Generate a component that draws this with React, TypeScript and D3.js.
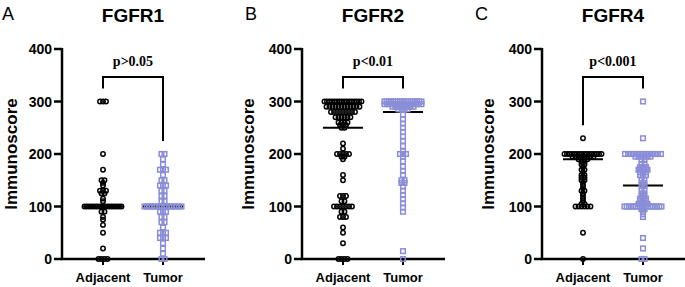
import React from "react";
import * as d3 from "d3";

const categories = ["Adjacent", "Tumor"];
const panelLetters = ["A", "B", "C"];
const panelTitles = ["FGFR1", "FGFR2", "FGFR4"];
const pLabels = ["p>0.05", "p<0.01", "p<0.001"];
const yTicks = [0, 100, 200, 300, 400];

// FGFR1
const fgfr1AdjValues = [300, 200, 170, 150, 145, 140, 130, 125, 115, 110, 100, 90, 80, 75, 65, 50, 20, 0];
const fgfr1AdjCounts = [3, 1, 1, 2, 1, 1, 3, 2, 1, 1, 16, 2, 1, 1, 1, 1, 1, 4];
const fgfr1TumValues = [200, 190, 180, 170, 160, 150, 140, 130, 120, 110, 100, 90, 80, 70, 60, 50, 40, 30, 20, 10, 0];
const fgfr1TumCounts = [2, 1, 1, 3, 1, 2, 3, 2, 2, 2, 16, 3, 2, 2, 1, 3, 3, 1, 1, 1, 2];
const fgfr1Means = [100, 100];

// FGFR2
const fgfr2AdjValues = [300, 290, 280, 270, 260, 255, 250, 220, 210, 200, 195, 190, 160, 150, 120, 110, 100, 90, 80, 60, 50, 30, 0];
const fgfr2AdjCounts = [16, 12, 9, 6, 4, 3, 2, 1, 1, 5, 2, 1, 1, 1, 3, 2, 7, 2, 3, 1, 1, 1, 4];
const fgfr2TumValues = [300, 295, 290, 285, 275, 266, 258, 250, 242, 233, 225, 215, 205, 200, 195, 186, 176, 168, 160, 150, 145, 138, 130, 122, 114, 106, 98, 90, 15, 0];
const fgfr2TumCounts = [18, 15, 8, 4, 1, 1, 1, 1, 1, 1, 1, 1, 1, 3, 1, 1, 1, 1, 1, 2, 2, 1, 1, 1, 1, 1, 1, 1, 1, 1];
const fgfr2Means = [250, 280];

// FGFR4
const fgfr4AdjValues = [230, 200, 195, 190, 185, 180, 175, 170, 165, 160, 155, 150, 145, 140, 135, 130, 125, 120, 115, 110, 105, 100, 50, 0];
const fgfr4AdjCounts = [1, 16, 8, 4, 2, 2, 1, 2, 1, 2, 2, 2, 1, 1, 1, 2, 1, 1, 1, 1, 2, 6, 1, 1];
const fgfr4TumValues = [300, 230, 200, 195, 190, 180, 175, 170, 165, 160, 150, 145, 140, 130, 125, 120, 115, 110, 105, 100, 95, 90, 85, 80, 40, 20, 0];
const fgfr4TumCounts = [1, 1, 13, 6, 2, 2, 3, 4, 3, 3, 2, 1, 2, 2, 1, 2, 3, 3, 4, 18, 2, 1, 1, 1, 1, 1, 2];
const fgfr4Means = [190, 140];

const panels = [
  { groups: [[fgfr1AdjValues, fgfr1AdjCounts], [fgfr1TumValues, fgfr1TumCounts]], means: fgfr1Means },
  { groups: [[fgfr2AdjValues, fgfr2AdjCounts], [fgfr2TumValues, fgfr2TumCounts]], means: fgfr2Means },
  { groups: [[fgfr4AdjValues, fgfr4AdjCounts], [fgfr4TumValues, fgfr4TumCounts]], means: fgfr4Means },
];

const axisXs = [62, 302, 542];
const letterXs = [2, 245, 475];
const yLabelXs = [17, 254, 494];
const BLUE = "#8A8ED8";
const SANS = "'Liberation Sans', Arial, sans-serif";
const SERIF = "'Liberation Serif', 'Times New Roman', serif";

const y = d3.scaleLinear().domain([0, 400]).range([259, 49]);

function layout(values: number[], counts: number[], cx: number) {
  const pts: { x: number; y: number }[] = [];
  values.forEach((v, i) => {
    const n = counts[i];
    const step = n > 1 ? Math.min(3, 37 / (n - 1)) : 0;
    for (let k = 0; k < n; k++) {
      pts.push({ x: cx + (k - (n - 1) / 2) * step, y: y(v) });
    }
  });
  return pts;
}

function Panel({ idx }: { idx: number }) {
  const ax = axisXs[idx];
  const x = d3.scalePoint<string>().domain(categories).range([ax + 41, ax + 101]);
  const p = panels[idx];
  const mid = (x(categories[0])! + x(categories[1])!) / 2;
  const bracketY = 77;
  const legs = p.groups.map(([vals]) => y(d3.max(vals as number[])!) - 13);
  return (
    <g>
      <text x={letterXs[idx]} y={20} fontFamily={SANS} fontSize={18}>{panelLetters[idx]}</text>
      <text x={mid} y={21.5} fontFamily={SANS} fontSize={19} fontWeight="bold" textAnchor="middle">{panelTitles[idx]}</text>
      <text transform={`translate(${yLabelXs[idx]},154) rotate(-90)`} fontFamily={SANS} fontSize={17} fontWeight="bold" textAnchor="middle">Immunoscore</text>
      {/* y axis */}
      <line x1={ax} x2={ax} y1={y(400) - 1} y2={y(0) + 1} stroke="#000" strokeWidth={2.5} />
      {yTicks.map((t) => (
        <g key={t}>
          <line x1={ax - 8} x2={ax} y1={y(t)} y2={y(t)} stroke="#000" strokeWidth={2.5} />
          <text x={ax - 10} y={y(t) + 5} fontFamily={SANS} fontSize={14} fontWeight="bold" textAnchor="end">{t}</text>
        </g>
      ))}
      {/* x axis */}
      <line x1={ax - 1} x2={ax + 143} y1={y(0)} y2={y(0)} stroke="#000" strokeWidth={2.5} />
      {categories.map((c) => (
        <g key={c}>
          <line x1={x(c)} x2={x(c)} y1={y(0)} y2={y(0) + 6} stroke="#000" strokeWidth={2} />
          <text x={x(c)} y={282} fontFamily={SANS} fontSize={13} fontWeight="bold" textAnchor="middle">{c}</text>
        </g>
      ))}
      {/* bracket */}
      <path
        d={`M${x(categories[0])},${legs[0]}V${bracketY}H${x(categories[1])}V${legs[1]}`}
        fill="none" stroke="#000" strokeWidth={2}
      />
      <text x={mid} y={66} fontFamily={SERIF} fontSize={14} fontWeight="bold" textAnchor="middle">{pLabels[idx]}</text>
      {/* mean lines */}
      {categories.map((c, gi) => (
        <line key={c} x1={x(c)! - 20} x2={x(c)! + 20} y1={y(p.means[gi])} y2={y(p.means[gi])} stroke="#000" strokeWidth={2} />
      ))}
      {/* points */}
      {layout(p.groups[0][0] as number[], p.groups[0][1] as number[], x(categories[0])!).map((pt, i) => (
        <circle key={"a" + i} cx={pt.x} cy={pt.y} r={2.2} fill="none" stroke="#000" strokeWidth={1.5} />
      ))}
      {layout(p.groups[1][0] as number[], p.groups[1][1] as number[], x(categories[1])!).map((pt, i) => (
        <rect key={"t" + i} x={pt.x - 2.3} y={pt.y - 2.3} width={4.6} height={4.6} fill="none" stroke={BLUE} strokeWidth={1.5} />
      ))}
    </g>
  );
}

export default function App() {
  return (
    <svg width={685} height={287} style={{ position: "absolute", left: 0, top: 0, background: "#fff" }}>
      <rect width={685} height={287} fill="#fff" />
      {[0, 1, 2].map((i) => (
        <Panel key={i} idx={i} />
      ))}
    </svg>
  );
}
